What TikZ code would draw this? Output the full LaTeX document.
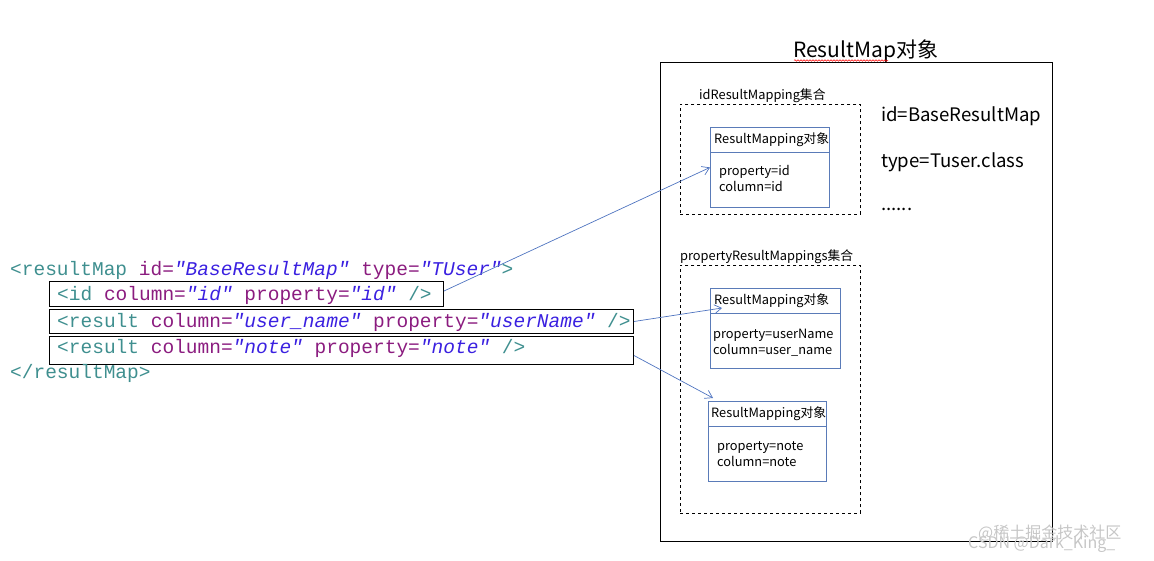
\documentclass[tikz,border=0pt]{standalone}
\usepackage{fontspec}
\usetikzlibrary{calc,arrows.meta,decorations.pathmorphing}
\newfontfamily\codefont{Liberation Mono}
\newfontfamily\cjk{Noto Sans CJK SC}
\definecolor{tagc}{HTML}{3F8F8F}
\definecolor{attc}{HTML}{8B1C7F}
\definecolor{valc}{HTML}{3A20E0}
\definecolor{bluebox}{HTML}{5A7BB8}
\definecolor{arrowc}{HTML}{4F74C0}
\newcommand{\tg}[1]{\textcolor{tagc}{#1}}
\newcommand{\atr}[1]{\textcolor{attc}{#1}}
\newcommand{\vl}[1]{\textcolor{valc}{\itshape #1}}
\begin{document}
\begin{tikzpicture}[x=1pt,y=-1pt,
  code/.style={anchor=base west,inner sep=0pt,font=\codefont\fontsize{19.5}{20}\selectfont},
  codebox/.style={draw=black,line width=1pt,anchor=north west,inner sep=0pt},
  big/.style={anchor=base west,inner sep=0pt,font=\cjk\fontsize{18.6}{20}\selectfont},
  small/.style={anchor=base west,inner sep=0pt,font=\cjk\fontsize{12.8}{14}\selectfont},
  dashbox/.style={draw=black,dashed,line width=0.8pt,anchor=north west,inner sep=0pt},
  mapbox/.style={draw=bluebox,line width=0.9pt,anchor=north west,inner sep=0pt},
  link/.style={draw=arrowc,line width=0.7pt,-{Straight Barb[length=7pt,width=9pt]}}]
\useasboundingbox (0,0) rectangle (1154,561);
% outer ResultMap box
\node[draw=black,line width=1pt,anchor=north west,inner sep=0pt,minimum width=392pt,minimum height=479pt] (outer) at (660,62) {};
\node[anchor=base west,inner sep=0pt,font=\cjk\fontsize{21}{24}\selectfont] (title) at (793,58) {ResultMap对象};
\draw[red,line width=0.5pt,decorate,decoration={snake,segment length=3pt,amplitude=0.8pt}] (794,60.5) -- (888,60.5);
% idResultMapping set
\node[dashbox,minimum width=180pt,minimum height=110pt] (set1) at (680,104) {};
\node[small] (set1lbl) at (699,100) {idResultMapping集合};
\node[mapbox,minimum width=119pt,minimum height=80pt] (m1) at (710,127) {};
\draw[bluebox,line width=0.9pt] ($(m1.north west)+(0,25)$) -- ($(m1.north east)+(0,25)$);
\node[small] (m1t) at (714,144) {ResultMapping对象};
\node[small] (m1a) at (719,176) {property=id};
\node[small] (m1b) at (719,192) {column=id};
% properties text
\node[big] (pid) at (881,122) {id=BaseResultMap};
\node[big] (ptype) at (881,168) {type=Tuser.class};
\node[big] (pdots) at (881,211) {......};
% propertyResultMappings set
\node[dashbox,minimum width=180pt,minimum height=248pt] (set2) at (680,265) {};
\node[small] (set2lbl) at (680,261) {propertyResultMappings集合};
\node[mapbox,minimum width=130pt,minimum height=80pt] (m2) at (710,288) {};
\draw[bluebox,line width=0.9pt] ($(m2.north west)+(0,25)$) -- ($(m2.north east)+(0,25)$);
\node[small] (m2t) at (714,305) {ResultMapping对象};
\node[small] (m2a) at (713,338) {property=userName};
\node[small] (m2b) at (713,354) {column=user\_name};
\node[mapbox,minimum width=118pt,minimum height=80pt] (m3) at (708,401) {};
\draw[bluebox,line width=0.9pt] ($(m3.north west)+(0,25)$) -- ($(m3.north east)+(0,25)$);
\node[small] (m3t) at (711,417) {ResultMapping对象};
\node[small] (m3a) at (717,450) {property=note};
\node[small] (m3b) at (717,466) {column=note};
% code
\node[code] (l0) at (10,276) {\tg{<resultMap} \atr{id=}\vl{"BaseResultMap"} \atr{type=}\vl{"TUser"}\tg{>}};
\node[codebox,minimum width=394pt,minimum height=25pt] (a) at (49,281) {};
\node[code] (l1) at (57,301) {\tg{<id} \atr{column=}\vl{"id"} \atr{property=}\vl{"id"} \tg{/>}};
\node[codebox,minimum width=584pt,minimum height=24pt] (b) at (49,309) {};
\node[code] (l2) at (57,327) {\tg{<result} \atr{column=}\vl{"user\_name"} \atr{property=}\vl{"userName"} \tg{/>}};
\node[codebox,minimum width=584pt,minimum height=28pt] (c) at (49,336) {};
\node[code] (l3) at (57,353) {\tg{<result} \atr{column=}\vl{"note"} \atr{property=}\vl{"note"} \tg{/>}};
\node[code] (l4) at (10,378) {\tg{</resultMap>}};
% arrows
\coordinate (t2) at ($(m2.north west)+(12,20)$);
\coordinate (t3) at ($(m3.north west)+(5,-3)$);
\draw[link] ([yshift=3pt]a.east) -- (m1.west);
\draw[link] (b.east) -- (t2);
\draw[link] ([yshift=-5pt]c.east) -- (t3);
% watermark
\node[anchor=base west,inner sep=0pt,text=gray!45,font=\cjk\fontsize{16}{18}\selectfont] (wm1) at (978,538) {@稀土掘金技术社区};
\node[anchor=base west,inner sep=0pt,text=gray!45,font=\cjk\fontsize{16}{18}\selectfont] (wm2) at (968,548) {CSDN @Dark\_King\_};
\end{tikzpicture}
\end{document}
